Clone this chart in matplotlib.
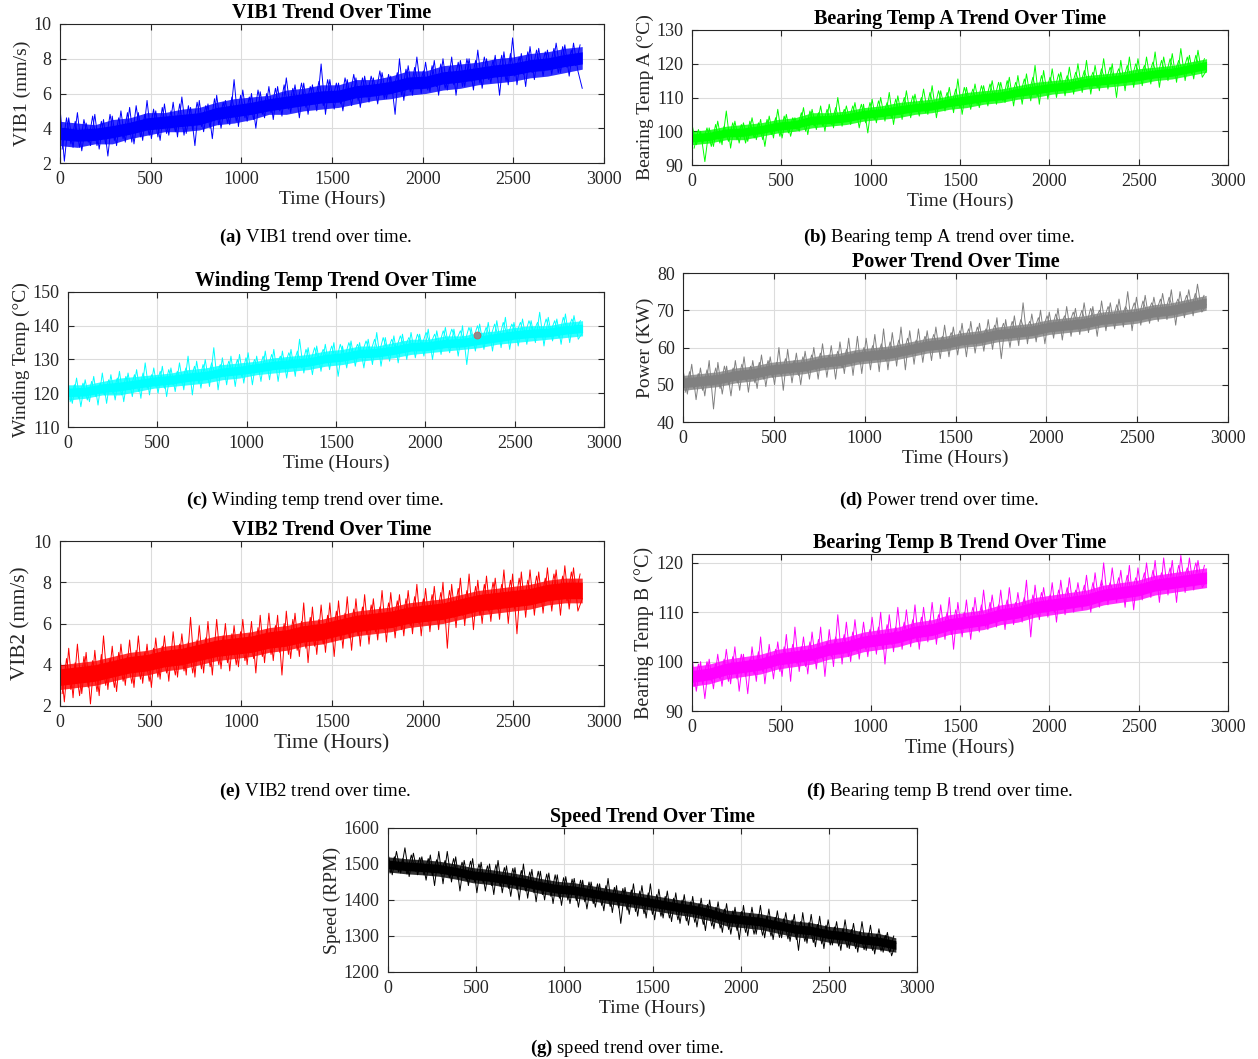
import numpy as np
import matplotlib
matplotlib.use("Agg")
import matplotlib.pyplot as plt

plt.rcParams['font.family'] = ['Liberation Serif', 'DejaVu Serif']
plt.rcParams['mathtext.fontset'] = 'custom'
plt.rcParams['mathtext.rm'] = 'Liberation Serif'
plt.rcParams['mathtext.bf'] = 'Liberation Serif:bold'

# sample times (hours): readings every 24 h (two interleaved sets), density bands every 96 h
hours = np.arange(0, 2881, 24)
hours_b = np.arange(12, 2880, 24)
band_hours = np.arange(0, 2881, 96)

vib1 = [5.2, 2.1, 4.6, 2.9, 4.9, 2.7, 4.3, 3.0, 4.8, 2.8,
        4.5, 2.4, 4.7, 3.0, 5.0, 3.2, 5.2, 3.1, 4.9, 3.3,
        5.6, 3.4, 5.0, 3.3, 5.4, 3.6, 5.5, 3.5, 5.8, 3.7,
        5.2, 3.0, 5.6, 3.8, 5.4, 3.4, 5.9, 4.0, 5.6, 4.2,
        6.8, 4.1, 6.2, 4.4, 6.0, 4.0, 6.1, 4.6, 6.4, 4.5,
        6.4, 4.7, 6.9, 4.9, 6.5, 4.6, 6.6, 4.8, 6.5, 5.0,
        7.7, 4.8, 6.8, 5.1, 6.6, 5.0, 6.8, 5.3, 6.9, 5.2,
        7.0, 5.5, 6.9, 5.4, 7.2, 5.7, 7.0, 4.8, 8.0, 5.6,
        7.6, 5.9, 8.1, 6.0, 7.8, 6.1, 7.9, 5.9, 8.0, 6.2,
        8.1, 5.9, 7.9, 6.4, 8.0, 6.2, 8.5, 6.3, 8.0, 6.6,
        8.2, 5.9, 8.4, 6.5, 9.2, 6.5, 8.3, 6.4, 8.7, 6.8,
        8.6, 7.0, 8.5, 7.1, 8.9, 7.2, 8.8, 7.0, 8.9, 7.3, 6.3]
vib1_b = [2.8, 4.6, 3.1, 4.4, 2.9, 4.5, 3.2, 4.7, 3.0, 4.4,
          3.1, 4.8, 3.3, 4.6, 3.4, 4.9, 3.2, 5.3, 3.5, 4.8,
          3.6, 5.1, 3.5, 5.2, 3.7, 5.0, 3.8, 5.4, 3.6, 5.3,
          3.9, 5.5, 4.1, 5.3, 4.0, 5.7, 4.2, 5.5, 4.3, 5.8,
          4.4, 5.9, 4.6, 5.8, 4.5, 6.2, 4.8, 6.0, 4.9, 6.3,
          5.0, 6.5, 5.1, 6.3, 5.3, 6.6, 5.2, 6.4, 5.4, 6.7,
          5.3, 6.8, 5.5, 6.6, 5.4, 6.9, 5.7, 7.1, 5.6, 6.9,
          5.8, 7.0, 5.9, 7.3, 5.7, 7.1, 6.0, 7.2, 5.9, 7.4,
          6.1, 7.5, 6.3, 7.3, 6.2, 7.6, 6.4, 7.7, 6.3, 7.5,
          6.5, 7.8, 6.4, 8.0, 6.7, 7.9, 6.6, 8.1, 6.8, 7.9,
          6.9, 8.2, 6.7, 8.3, 7.0, 8.1, 7.1, 8.4, 7.2, 8.5,
          7.3, 8.4, 7.4, 8.6, 7.2, 8.7, 7.5, 8.5, 7.6, 8.8]
vib1_hi = [4.05, 3.95, 4.0, 4.15, 4.35, 4.6, 4.7, 4.8, 4.9, 5.2, 5.35, 5.5, 5.7, 5.85, 6.0, 6.15,
           6.2, 6.45, 6.55, 6.7, 6.95, 7.0, 7.25, 7.35, 7.5, 7.65, 7.75, 7.95, 8.05, 8.25, 8.4]
vib1_lo = [3.35, 3.25, 3.3, 3.45, 3.65, 3.9, 4.0, 4.1, 4.2, 4.5, 4.65, 4.8, 5.0, 5.15, 5.3, 5.45,
           5.5, 5.75, 5.85, 6.0, 6.25, 6.3, 6.55, 6.65, 6.8, 6.95, 7.05, 7.25, 7.35, 7.55, 7.7]
vib1_out_hi = [4.4, 4.3, 4.2, 4.5, 4.6, 4.9, 4.9, 5.1, 5.2, 5.5, 5.7, 5.8, 5.9, 6.2, 6.3, 6.5,
               6.5, 6.8, 6.8, 7.0, 7.3, 7.3, 7.6, 7.7, 7.8, 8.0, 8.1, 8.3, 8.4, 8.6, 8.7]
vib1_out_lo = [3.0, 2.9, 3.1, 3.1, 3.4, 3.6, 3.8, 3.8, 3.9, 4.2, 4.3, 4.5, 4.8, 4.8, 5.0, 5.1,
               5.2, 5.4, 5.6, 5.7, 5.9, 6.0, 6.2, 6.3, 6.5, 6.6, 6.7, 6.9, 7.0, 7.2, 7.4]

temp_a = [102, 96, 100, 91, 101, 95.5, 103, 96, 106, 95,
          103, 96.5, 102.5, 97, 104, 97.5, 103.5, 95.5, 104.5, 98,
          106.5, 98, 105, 98.5, 104, 100, 107, 99, 106.5, 100.5,
          107.5, 100, 108, 101, 110, 101.5, 107.5, 102, 108.5, 101,
          108, 99.5, 109.5, 102.5, 110, 103, 111.5, 102, 110.5, 103.5,
          112, 104, 111, 104.5, 112.5, 105, 113.5, 104, 112, 106,
          113, 105.5, 115.5, 105, 113, 106.5, 114, 107, 113.5, 107.5,
          115, 108, 114.5, 108.5, 116, 107.5, 116.5, 108, 117, 109,
          119.5, 108, 118, 109.5, 118.5, 110, 117.5, 110.5, 119, 111,
          120, 111.5, 121, 111, 119.5, 112, 121.5, 112.5, 120, 110,
          121, 112, 122, 113, 121.5, 113.5, 122, 114, 123.5, 113,
          122, 115, 123, 114.5, 124.5, 115, 122.5, 115.5, 124, 116, 118]
temp_a_b = [95, 100.5, 96.5, 101, 95.5, 102, 96.5, 101.5, 97, 102.5,
            97.5, 102, 96.5, 103, 98, 102.5, 97.5, 103.5, 99, 104,
            98.5, 104.5, 99.5, 104, 100.5, 105.5, 100, 106, 101.5, 105.5,
            101.5, 106.5, 102, 107, 102.5, 106.5, 103, 107.5, 103.5, 108,
            102.5, 108.5, 103.5, 109, 104.5, 108.5, 104, 109.5, 105, 110,
            105.5, 110.5, 106, 110, 105.5, 111.5, 106.5, 112, 107, 111.5,
            107.5, 112.5, 107, 113, 108.5, 112.5, 108, 113.5, 109, 114,
            109.5, 114.5, 109, 115, 110, 114.5, 110.5, 115.5, 111, 116,
            110.5, 116.5, 111.5, 116, 112, 117, 112.5, 116.5, 113, 117.5,
            113.5, 118, 114, 117.5, 113, 118.5, 114.5, 119, 115, 118.5,
            115, 119.5, 115.5, 120, 116, 119.5, 116.5, 120.5, 116, 121,
            116.5, 121.5, 117, 121, 117.5, 122, 117, 122.5, 118, 121.5]
temp_a_hi = [99.2, 99.7, 100.7, 101, 101.7, 102.7, 103.2, 104.5, 104.7, 105.2, 106.2, 106.7, 107.5, 108.2,
             108.7, 109.7, 110.5, 111.2, 111.7, 112.7, 113.5, 114.2, 114.7, 115.7, 116.2, 116.7, 117.5,
             118.2, 118.7, 119.7, 120.7]
temp_a_lo = [96.8, 97.3, 98.3, 98.5, 99.3, 100.3, 100.8, 102, 102.3, 102.8, 103.8, 104.3, 105, 105.8,
             106.3, 107.3, 108, 108.8, 109.3, 110.3, 111, 111.8, 112.3, 113.3, 113.8, 114.3, 115,
             115.8, 116.3, 117.3, 118.3]
temp_a_out_hi = [100, 100.5, 101.5, 102, 102.5, 103.5, 104, 105.5, 105.5, 106, 107, 107.5, 108.5, 109,
                 109.5, 110.5, 111.5, 112, 112.5, 113.5, 114.5, 115, 115.5, 116.5, 117, 117.5, 118.5,
                 119, 119.5, 120.5, 121.5]
temp_a_out_lo = [96, 96.5, 97.5, 97.5, 98.5, 99.5, 100, 101, 101.5, 102, 103, 103.5, 104, 105, 105.5,
                 106.5, 107, 108, 108.5, 109.5, 110, 111, 111.5, 112.5, 113, 113.5, 114, 115, 115.5,
                 116.5, 117.5]

winding = [123, 117, 124.5, 116, 124, 117.5, 125, 116.5, 126, 117,
           125.5, 118, 126.5, 117.5, 126, 119, 127, 118.5, 129, 119.5,
           127.5, 120, 128, 119, 127.5, 120.5, 129, 121, 131, 119.5,
           129.5, 121.5, 130, 122, 133.5, 121, 130.5, 122.5, 131, 122,
           131.5, 123, 132, 122.5, 131, 123.5, 132.5, 124, 133, 123.5,
           132.5, 124.5, 133, 125, 136, 126, 133.5, 125.5, 134, 126.5,
           134.5, 127, 135, 125, 134, 127.5, 135.5, 128, 135, 127.5,
           136, 128.5, 138, 128, 136.5, 129.5, 137, 129, 137.5, 130,
           138, 130.5, 137.5, 131, 139, 130, 138.5, 131.5, 139.5, 132,
           139, 131, 140, 128.5, 139.5, 132.5, 140.5, 133, 141, 132.5,
           141.5, 133.5, 142.5, 133, 141, 134, 142, 134.5, 141.5, 135,
           144, 134, 142.5, 135.5, 142, 134.5, 143.5, 135, 143, 136, 138]
winding_b = [117.5, 122.5, 118.5, 123, 118, 123.5, 119, 123, 119.5, 124,
             120, 124.5, 119.5, 125, 121, 125.5, 120.5, 126, 121.5, 125.5,
             122, 126.5, 121.5, 127, 122.5, 126.5, 123, 127.5, 123.5, 128,
             123, 128.5, 124, 129, 124.5, 128.5, 125, 129.5, 125.5, 130,
             125, 130.5, 126, 130, 126.5, 131, 127, 131.5, 127.5, 131,
             128, 132, 128.5, 132.5, 127.5, 133, 129, 133.5, 129.5, 133,
             130, 134, 129.5, 134.5, 130.5, 135, 131, 134.5, 131.5, 135.5,
             132, 136, 131.5, 136.5, 132.5, 136, 133, 137, 133.5, 136.5,
             133, 137.5, 134, 138, 134.5, 137.5, 134, 138.5, 135, 139,
             135.5, 138.5, 135, 139.5, 136, 140, 135.5, 139.5, 136.5, 140.5,
             136, 141, 137, 140.5, 137.5, 141, 137, 141.5, 138, 141,
             137.5, 142, 138, 141.5, 136.5, 142.5, 138.5, 142, 139, 141.5]
winding_hi = [121.5, 121.8, 122.8, 123.3, 124, 124.8, 125.3, 126, 126.5, 127.5, 128, 128.8, 129.5, 130,
              130.5, 131.5, 132, 133, 133.3, 134, 135, 135.3, 136, 136.3, 137, 137.8, 138.5, 139,
              139.3, 140, 140.5]
winding_lo = [119, 119.2, 120.2, 120.7, 121.5, 122.2, 122.7, 123.5, 124, 125, 125.5, 126.2, 127, 127.5,
              128, 129, 129.5, 130.5, 130.7, 131.5, 132.5, 132.7, 133.5, 133.7, 134.5, 135.2, 136, 136.5,
              136.7, 137.5, 138]
winding_out_hi = [122.5, 122.5, 123.5, 124.5, 125, 125.5, 126, 127, 127.5, 128.5, 129, 129.5, 130.5, 131,
                  131.5, 132.5, 133, 134, 134, 135, 136, 136, 137, 137, 138, 138.5, 139.5, 140, 140,
                  141, 141.5]
winding_out_lo = [118, 118.5, 119.5, 119.5, 120.5, 121.5, 122, 122.5, 123, 124, 124.5, 125.5, 126, 126.5,
                  127, 128, 128.5, 129.5, 130, 130.5, 131.5, 132, 132.5, 133, 133.5, 134.5, 135, 135.5,
                  136, 136.5, 137]
winding_mark = (2290, 137.3)

power = [54, 47.5, 55.5, 46, 54.5, 47, 56.5, 43.5, 56, 47.5,
         55, 47, 56.5, 48.5, 57.5, 48, 56.5, 49, 58, 49.5,
         57.5, 50, 60, 48.5, 59.5, 50.5, 58.5, 50, 59, 51.5,
         60, 51.5, 61, 52, 60.5, 51.5, 61.5, 53, 62.5, 52.5,
         63, 53, 62.5, 54, 63.5, 53.5, 65, 54, 64, 55,
         65.5, 54, 64.5, 55.5, 65, 56, 64.5, 56.5, 65.5, 57,
         66, 57.5, 65.5, 58, 66.5, 57.5, 67, 58.5, 66.5, 59,
         67.5, 59.5, 68, 57, 67.5, 60, 68.5, 60.5, 72, 61,
         69, 61.5, 70, 61, 69.5, 62.5, 70.5, 62, 71, 63,
         70.5, 63.5, 72, 64, 71, 63, 72.5, 64.5, 72, 65,
         73, 65.5, 75, 64.5, 73.5, 66, 74, 66.5, 73.5, 67,
         74.5, 67.5, 75.5, 66, 75, 68, 75.5, 68.5, 77, 69.5, 71.5]
power_b = [48, 53.5, 49, 53, 48.5, 54, 49.5, 54.5, 49, 55,
           50, 54.5, 50.5, 55.5, 51, 55, 50.5, 56, 51.5, 56.5,
           52, 56, 52.5, 57, 53, 56.5, 52.5, 57.5, 53.5, 58,
           54, 58.5, 54.5, 58, 55, 59, 54.5, 59.5, 55.5, 59,
           56, 60, 56.5, 60.5, 57, 61, 56.5, 61.5, 57.5, 62,
           58, 62.5, 58.5, 62, 59, 63, 59.5, 63.5, 60, 63,
           60.5, 64, 61, 64.5, 61.5, 65, 61, 65.5, 62, 65,
           62.5, 66, 63, 66.5, 62.5, 67, 63.5, 67.5, 64, 67,
           64.5, 68, 65, 68.5, 64.5, 69, 65.5, 68.5, 66, 69.5,
           66.5, 70, 66, 70.5, 67, 70, 67.5, 71, 67, 71.5,
           68, 71, 68.5, 72, 68, 72.5, 69, 72, 69.5, 73,
           69, 73.5, 70, 73, 70.5, 74, 70, 74.5, 71, 74]
power_hi = [51.8, 52.3, 52.8, 53.8, 54.3, 55.3, 55.8, 56.3, 57.3, 57.8, 58.8, 59.3, 59.8, 60.8, 61.8, 62.3,
            63.3, 63.8, 64.8, 65.3, 65.8, 66.8, 67.3, 67.8, 68.8, 69.3, 69.8, 70.8, 71.3, 72.3, 73.3]
power_lo = [49.2, 49.7, 50.2, 51.2, 51.7, 52.7, 53.2, 53.7, 54.7, 55.2, 56.2, 56.7, 57.2, 58.2, 59.2, 59.7,
            60.7, 61.2, 62.2, 62.7, 63.2, 64.2, 64.7, 65.2, 66.2, 66.7, 67.2, 68.2, 68.7, 69.7, 70.7]
power_out_hi = [52.5, 53, 53.5, 54.5, 55, 56, 56.5, 57, 58, 58.5, 59.5, 60, 60.5, 61.5, 62.5, 63,
                64, 64.5, 65.5, 66, 66.5, 67.5, 68, 68.5, 69.5, 70, 70.5, 71.5, 72, 73, 74]
power_out_lo = [48.5, 49, 49.5, 50.5, 51, 52, 52.5, 53, 54, 54.5, 55.5, 56, 56.5, 57.5, 58.5, 59,
                60, 60.5, 61.5, 62, 62.5, 63.5, 64, 64.5, 65.5, 66, 66.5, 67.5, 68, 69, 70]

vib2 = [4.4, 2.2, 4.8, 2.4, 5.0, 2.6, 4.6, 2.1, 4.7, 2.5,
        5.4, 2.8, 4.9, 2.7, 5.0, 3.0, 5.2, 2.9, 5.4, 3.1,
        5.0, 2.9, 5.3, 3.3, 5.4, 3.2, 5.6, 3.4, 5.5, 3.5,
        6.3, 3.4, 5.9, 3.6, 6.1, 3.5, 6.2, 3.8, 6.0, 3.7,
        5.9, 3.9, 6.2, 4.0, 6.1, 3.6, 6.4, 4.1, 6.5, 4.2,
        6.4, 3.5, 6.6, 4.3, 6.5, 4.4, 7.0, 4.1, 6.8, 4.5,
        6.9, 4.6, 7.0, 4.4, 7.1, 4.8, 7.3, 4.7, 7.2, 4.9,
        7.4, 5.0, 7.2, 5.2, 7.6, 5.1, 7.5, 5.3, 7.4, 5.4,
        7.6, 5.5, 7.9, 5.4, 7.7, 5.6, 7.8, 5.7, 8.0, 4.8,
        7.9, 5.8, 8.2, 5.9, 8.4, 5.7, 8.1, 6.0, 8.3, 6.1,
        8.2, 6.2, 8.6, 6.0, 8.4, 5.5, 8.5, 6.3, 8.6, 6.4,
        8.5, 6.5, 8.7, 6.6, 8.6, 6.4, 8.8, 6.7, 8.7, 6.6, 7.2]
vib2_b = [2.6, 4.3, 2.8, 4.1, 2.5, 4.4, 2.9, 4.2, 2.7, 4.5,
          3.0, 4.3, 2.9, 4.6, 3.2, 4.4, 3.1, 4.7, 3.3, 4.6,
          3.2, 4.8, 3.4, 4.9, 3.6, 4.7, 3.5, 5.0, 3.7, 5.1,
          3.6, 5.2, 3.8, 5.3, 3.9, 5.1, 4.0, 5.4, 4.1, 5.5,
          4.0, 5.6, 4.2, 5.5, 4.3, 5.8, 4.4, 5.7, 4.5, 5.9,
          4.6, 6.0, 4.5, 6.2, 4.7, 6.1, 4.8, 6.3, 4.9, 6.2,
          5.0, 6.4, 5.1, 6.6, 5.2, 6.5, 5.3, 6.7, 5.4, 6.8,
          5.5, 6.9, 5.6, 6.8, 5.7, 7.0, 5.8, 7.1, 5.7, 7.2,
          5.9, 7.3, 6.0, 7.2, 6.1, 7.4, 6.2, 7.5, 6.1, 7.6,
          6.3, 7.7, 6.4, 7.6, 6.5, 7.8, 6.4, 7.9, 6.6, 8.0,
          6.7, 7.9, 6.8, 8.1, 6.7, 8.2, 6.9, 8.1, 7.0, 8.3,
          7.0, 8.2, 7.1, 8.4, 7.2, 8.3, 7.1, 8.5, 7.3, 8.4]
vib2_hi = [3.8, 3.9, 4.0, 4.2, 4.4, 4.5, 4.7, 4.8, 5.0, 5.2, 5.3, 5.4, 5.6, 5.7, 5.9, 6.0,
           6.2, 6.4, 6.5, 6.6, 6.8, 6.9, 7.0, 7.2, 7.4, 7.5, 7.6, 7.7, 7.9, 8.0, 8.0]
vib2_lo = [3.0, 3.1, 3.2, 3.4, 3.6, 3.7, 3.9, 4.0, 4.2, 4.4, 4.5, 4.6, 4.8, 4.9, 5.1, 5.2,
           5.4, 5.6, 5.7, 5.8, 6.0, 6.1, 6.2, 6.4, 6.6, 6.7, 6.8, 6.9, 7.1, 7.2, 7.2]
vib2_out_hi = [4.0, 4.1, 4.2, 4.4, 4.6, 4.7, 4.9, 5.0, 5.2, 5.4, 5.5, 5.6, 5.8, 5.9, 6.1, 6.2,
               6.4, 6.6, 6.7, 6.8, 7.0, 7.1, 7.2, 7.4, 7.6, 7.7, 7.8, 7.9, 8.1, 8.2, 8.2]
vib2_out_lo = [2.8, 2.9, 3.0, 3.2, 3.4, 3.5, 3.7, 3.8, 4.0, 4.2, 4.3, 4.4, 4.6, 4.7, 4.9, 5.0,
               5.2, 5.4, 5.5, 5.6, 5.8, 5.9, 6.0, 6.2, 6.4, 6.5, 6.6, 6.7, 6.9, 7.0, 7.0]

temp_b = [101, 94, 100, 92.5, 100.5, 94.5, 101.5, 95, 102.5, 95.5,
          103, 94, 101.5, 93.5, 103, 96, 105, 95.5, 103.5, 96.5,
          104, 97, 105.5, 96, 107, 98, 105, 97.5, 106, 98.5,
          107, 97, 106.5, 99, 109.5, 99.5, 108, 100, 108.5, 100.5,
          108, 101, 109, 101.5, 110, 99.5, 109.5, 102, 111, 102.5,
          110.5, 103, 111.5, 102.5, 111, 104, 112, 103.5, 111.5, 104.5,
          113, 102.5, 112, 105, 112.5, 104.5, 113, 106, 114.5, 106.5,
          113.5, 107, 114.5, 106.5, 115, 107.5, 114, 108, 116.5, 105,
          115.5, 108.5, 115, 109, 116, 108, 116.5, 109.5, 117, 110,
          116, 110.5, 117.5, 110, 118, 111, 120, 111.5, 119, 112,
          118.5, 111, 119.5, 110.5, 119, 112.5, 120, 113, 120.5, 112,
          121, 113.5, 120.5, 112, 121.5, 114, 121, 114.5, 120.5, 115, 116.5]
temp_b_b = [95, 99.5, 95.5, 100, 96, 99.5, 96.5, 100.5, 96, 101,
            96.5, 101.5, 97, 100.5, 97.5, 102, 98, 101.5, 98.5, 102.5,
            98, 103, 99, 103.5, 99.5, 103, 99, 104, 100, 104.5,
            100.5, 104, 101, 105, 101.5, 105.5, 101, 106, 102, 105.5,
            102.5, 106.5, 103, 107, 102.5, 107.5, 103.5, 107, 104, 108,
            104.5, 108.5, 104, 109, 105, 108.5, 105.5, 109.5, 106, 110,
            105.5, 110.5, 106.5, 110, 107, 111, 107.5, 111.5, 107, 112,
            108, 111.5, 108.5, 112.5, 109, 112, 109.5, 113, 109, 113.5,
            109.5, 114, 110.5, 113.5, 110, 114.5, 111, 115, 111.5, 114.5,
            112, 115.5, 111.5, 116, 112.5, 116.5, 113, 116, 113.5, 117,
            113, 117.5, 114, 117, 114.5, 118, 114, 118.5, 115, 118,
            115.5, 119, 115, 119.5, 116, 119, 116.5, 120, 116, 119.5]
temp_b_hi = [98.2, 98.7, 99.7, 100.2, 100.7, 101.7, 102.2, 102.7, 103.7, 104.2, 105.2, 105.7, 106.2, 107.2,
             107.7, 108.7, 109.2, 109.7, 110.7, 111.2, 112.2, 112.7, 113.2, 113.7, 114.7, 115.2, 115.7,
             116.7, 117.2, 117.7, 118.2]
temp_b_lo = [95.8, 96.3, 97.3, 97.8, 98.3, 99.3, 99.8, 100.3, 101.3, 101.8, 102.8, 103.3, 103.8, 104.8,
             105.3, 106.3, 106.8, 107.3, 108.3, 108.8, 109.8, 110.3, 110.8, 111.3, 112.3, 112.8, 113.3,
             114.3, 114.8, 115.3, 115.8]
temp_b_out_hi = [99, 99.5, 100.5, 101, 101.5, 102.5, 103, 103.5, 104.5, 105, 106, 106.5, 107, 108, 108.5,
                 109.5, 110, 110.5, 111.5, 112, 113, 113.5, 114, 114.5, 115.5, 116, 116.5, 117.5, 118,
                 118.5, 119]
temp_b_out_lo = [95, 95.5, 96.5, 97, 97.5, 98.5, 99, 99.5, 100.5, 101, 102, 102.5, 103, 104, 104.5,
                 105.5, 106, 106.5, 107.5, 108, 109, 109.5, 110, 110.5, 111.5, 112, 112.5, 113.5, 114,
                 114.5, 115]

speed = [1530, 1470, 1535, 1475, 1545, 1465, 1530, 1470, 1520, 1455,
         1525, 1440, 1535, 1445, 1535, 1450, 1520, 1425, 1510, 1440,
         1515, 1420, 1505, 1425, 1500, 1415, 1510, 1420, 1495, 1410,
         1490, 1400, 1500, 1405, 1485, 1395, 1480, 1400, 1475, 1390,
         1470, 1385, 1465, 1390, 1460, 1380, 1455, 1375, 1450, 1380,
         1445, 1370, 1460, 1365, 1440, 1335, 1435, 1360, 1445, 1355,
         1440, 1350, 1445, 1345, 1430, 1350, 1425, 1340, 1420, 1335,
         1415, 1330, 1410, 1325, 1405, 1315, 1400, 1320, 1395, 1310,
         1390, 1305, 1380, 1290, 1385, 1300, 1380, 1305, 1385, 1295,
         1375, 1290, 1370, 1295, 1365, 1285, 1360, 1260, 1365, 1280,
         1360, 1270, 1355, 1265, 1345, 1275, 1340, 1260, 1345, 1265,
         1335, 1255, 1340, 1260, 1330, 1250, 1320, 1255, 1310, 1245, 1280]
speed_b = [1475, 1520, 1478, 1515, 1472, 1525, 1480, 1518, 1470, 1515,
           1468, 1512, 1472, 1510, 1462, 1515, 1460, 1505, 1455, 1508,
           1450, 1500, 1448, 1495, 1440, 1498, 1438, 1490, 1432, 1488,
           1428, 1482, 1425, 1478, 1420, 1480, 1415, 1472, 1410, 1470,
           1405, 1462, 1400, 1458, 1398, 1455, 1395, 1450, 1390, 1445,
           1385, 1440, 1382, 1435, 1378, 1432, 1372, 1428, 1368, 1425,
           1362, 1420, 1360, 1415, 1355, 1410, 1350, 1405, 1345, 1400,
           1342, 1395, 1338, 1390, 1332, 1388, 1328, 1380, 1322, 1375,
           1318, 1370, 1315, 1368, 1310, 1362, 1305, 1360, 1302, 1355,
           1300, 1352, 1296, 1348, 1292, 1345, 1290, 1340, 1285, 1338,
           1282, 1332, 1278, 1330, 1275, 1325, 1272, 1320, 1268, 1318,
           1265, 1312, 1262, 1308, 1260, 1305, 1258, 1302, 1255, 1300]
speed_hi = [1511, 1506, 1503, 1499, 1491, 1481, 1476, 1469, 1461, 1451, 1443, 1439, 1431, 1423, 1416, 1409,
            1401, 1393, 1386, 1376, 1362, 1357, 1352, 1342, 1332, 1327, 1317, 1312, 1302, 1297, 1287]
speed_lo = [1487, 1482, 1479, 1475, 1467, 1457, 1452, 1445, 1437, 1427, 1419, 1415, 1407, 1399, 1392, 1385,
            1377, 1369, 1362, 1352, 1338, 1333, 1328, 1318, 1308, 1303, 1293, 1288, 1278, 1273, 1263]
speed_out_hi = [1520, 1515, 1512, 1508, 1500, 1490, 1485, 1478, 1470, 1460, 1452, 1448, 1440, 1432, 1425,
                1418, 1410, 1402, 1395, 1385, 1372, 1367, 1362, 1352, 1342, 1337, 1327, 1322, 1312, 1307,
                1295]
speed_out_lo = [1478, 1473, 1470, 1466, 1458, 1448, 1443, 1436, 1428, 1418, 1410, 1406, 1398, 1390, 1383,
                1376, 1368, 1360, 1353, 1343, 1328, 1323, 1318, 1308, 1298, 1293, 1283, 1278, 1268, 1263,
                1255]

xticks = [0, 500, 1000, 1500, 2000, 2500, 3000]

# series per panel: (main, interleaved, core hi, core lo, outer hi, outer lo)
series = [
    (vib1, vib1_b, vib1_hi, vib1_lo, vib1_out_hi, vib1_out_lo),
    (temp_a, temp_a_b, temp_a_hi, temp_a_lo, temp_a_out_hi, temp_a_out_lo),
    (winding, winding_b, winding_hi, winding_lo, winding_out_hi, winding_out_lo),
    (power, power_b, power_hi, power_lo, power_out_hi, power_out_lo),
    (vib2, vib2_b, vib2_hi, vib2_lo, vib2_out_hi, vib2_out_lo),
    (temp_b, temp_b_b, temp_b_hi, temp_b_lo, temp_b_out_hi, temp_b_out_lo),
    (speed, speed_b, speed_hi, speed_lo, speed_out_hi, speed_out_lo),
]

# colour, title, ylabel, y range, y ticks, axes box px (l, t, r, b), tag, caption, caption centre px, label size
styles = [
    ((0, 0, 1), 'VIB1 Trend Over Time', 'VIB1 (mm/s)', (2, 10), [2, 4, 6, 8, 10],
     (60, 24, 604, 163), '(a)', 'VIB1 trend over time.', (315, 237), 14),
    ((0, 1, 0), 'Bearing Temp A Trend Over Time', 'Bearing Temp A (°C)', (90, 130), [90, 100, 110, 120, 130],
     (692, 30, 1228, 165), '(b)', 'Bearing temp A trend over time.', (939, 237), 14),
    ((0, 1, 1), 'Winding Temp Trend Over Time', 'Winding Temp (°C)', (110, 150), [110, 120, 130, 140, 150],
     (68, 292, 604, 427), '(c)', 'Winding temp trend over time.', (315, 500), 14),
    ((0.5, 0.5, 0.5), 'Power Trend Over Time', 'Power (KW)', (40, 80), [40, 50, 60, 70, 80],
     (683, 273, 1228, 422), '(d)', 'Power trend over time.', (939, 500), 14),
    ((1, 0, 0), 'VIB2 Trend Over Time', 'VIB2 (mm/s)', (2, 10), [2, 4, 6, 8, 10],
     (60, 541, 604, 706), '(e)', 'VIB2 trend over time.', (315, 791), 15.3),
    ((1, 0, 1), 'Bearing Temp B Trend Over Time', 'Bearing Temp B (°C)', (90, 121.8), [90, 100, 110, 120],
     (692, 554, 1228, 711), '(f)', 'Bearing temp B trend over time.', (939, 791), 14.5),
    ((0, 0, 0), 'Speed Trend Over Time', 'Speed (RPM)', (1200, 1600), [1200, 1300, 1400, 1500, 1600],
     (388, 828, 917, 972), '(g)', 'speed trend over time.', (627, 1048), 14),
]

W, H = 1258, 1059
fig = plt.figure(figsize=(W / 100, H / 100), dpi=100)

for (vals, vals_b, hi, lo, ohi, olo), st in zip(series, styles):
    col, title, ylab, ylim, yt, (l, t, r, b), tag, cap, (cx, cy), lab_fs = st
    ax = fig.add_axes([l / W, 1 - b / H, (r - l) / W, (b - t) / H])
    ax.fill_between(band_hours, olo, ohi, color=col, alpha=0.8, lw=0)
    ax.fill_between(band_hours, lo, hi, color=col, lw=0)
    ax.plot(hours_b, vals_b, color=col, lw=0.7)
    ax.plot(hours, vals, color=col, lw=0.7)
    ax.set_xlim(0, 3000)
    ax.set_ylim(*ylim)
    ax.set_xticks(xticks)
    ax.set_yticks(yt)
    ax.grid(True, color='#dcdcdc', lw=0.8)
    ax.set_axisbelow(True)
    ax.tick_params(direction='in', length=4, width=0.8, labelsize=13, colors='#262626',
                   top=True, right=True, pad=6)
    for s in ax.spines.values():
        s.set_color('#262626')
        s.set_linewidth(0.8)
    ax.set_title(title, fontsize=14.5, fontweight='bold', pad=4)
    ax.set_xlabel('Time (Hours)', fontsize=lab_fs, color='#262626', labelpad=2)
    ax.set_ylabel(ylab, fontsize=lab_fs, color='#262626', labelpad=2)
    if tag == '(c)':
        ax.plot([winding_mark[0]], [winding_mark[1]], 'o', ms=5, color='#8c8c8c',
                markeredgecolor='#c06060', mew=0.6)
    fig.text(cx / W, 1 - cy / H, r'$\mathbf{' + tag + '}$ ' + cap,
             ha='center', va='center', fontsize=13.5)

fig.savefig('out.png', dpi=100)
